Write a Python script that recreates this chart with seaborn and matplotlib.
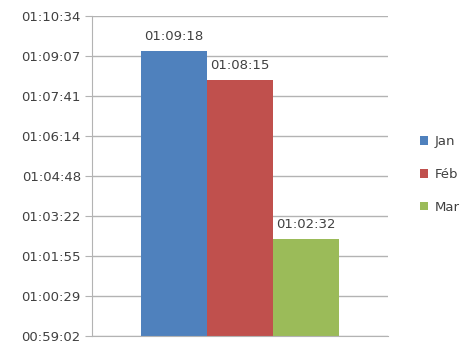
import seaborn as sns
import pandas as pd
import matplotlib.pyplot as plt

months = ['Jan', 'Féb', 'Mar']
seconds = [4158, 4095, 3752]          # 01:09:18, 01:08:15, 01:02:32
bar_labels = ['01:09:18', '01:08:15', '01:02:32']
tick_vals = [3542, 3628.5, 3715, 3801.5, 3888, 3974.5, 4061, 4147.5, 4234]
tick_labels = ['00:59:02', '01:00:29', '01:01:55', '01:03:22', '01:04:48',
               '01:06:14', '01:07:41', '01:09:07', '01:10:34']
colors = ['#4f81bd', '#c0504d', '#9bbb59']

df = pd.DataFrame({'grp': [''] * 3, 'month': months, 'sec': seconds})

sns.set_style('white')
plt.rcParams['font.family'] = ['DejaVu Sans']

fig = plt.figure(figsize=(4.64, 3.49), dpi=100)
ax = fig.add_axes([0.198, 0.037, 0.638, 0.917])

sns.barplot(data=df, x='grp', y='sec', hue='month', palette=colors,
            width=0.67, gap=0, saturation=1, linewidth=0, ax=ax, legend=True)

ax.set_ylim(tick_vals[0], tick_vals[-1])
ax.set_xlim(-0.5, 0.5)
ax.set_yticks(tick_vals)
ax.set_yticklabels(tick_labels, fontsize=9.5, color='#404040')
ax.set_xticks([])
ax.set_xlabel('')
ax.set_ylabel('')
ax.yaxis.grid(True, color='#b3b3b3', linewidth=1)
ax.set_axisbelow(True)
ax.tick_params(axis='y', left=True, length=5, color='#b3b3b3', pad=3)
for s in ['top', 'right']:
    ax.spines[s].set_visible(False)
for s in ['left', 'bottom']:
    ax.spines[s].set_color('#b3b3b3')

for cont, lab in zip(ax.containers, bar_labels):
    ax.bar_label(cont, labels=[lab], padding=6, fontsize=9.5, color='#404040')

ax.legend(loc='center left', bbox_to_anchor=(0.88, 0.5), bbox_transform=fig.transFigure,
          frameon=False, fontsize=9.5, handlelength=0.6, handleheight=0.6,
          labelspacing=1.5, handletextpad=0.5, labelcolor='#404040')

fig.savefig('out.png', dpi=100)
